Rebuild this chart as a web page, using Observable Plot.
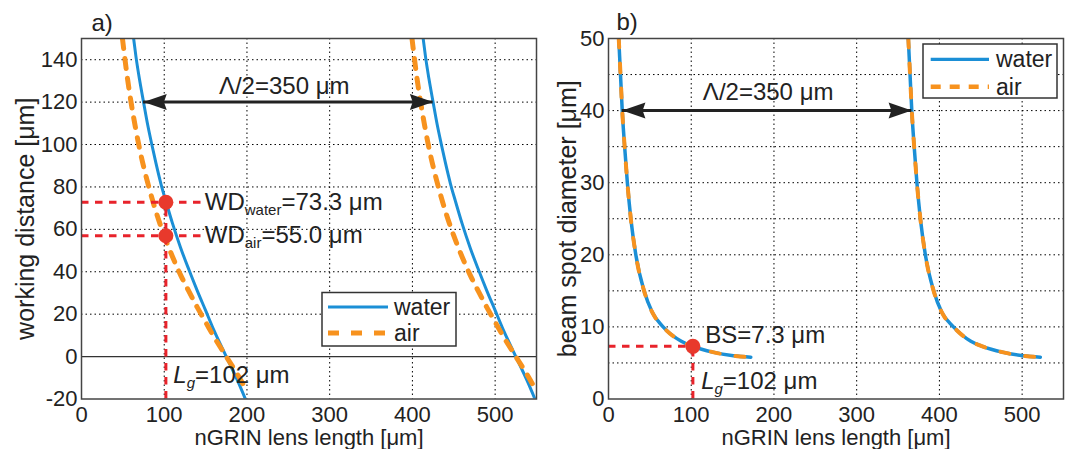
<!DOCTYPE html>
<html><head><meta charset="utf-8">
<script src="https://cdn.jsdelivr.net/npm/d3@7"></script>
<script src="https://cdn.jsdelivr.net/npm/@observablehq/plot@0.6"></script>
<style>
html,body{margin:0;padding:0;background:#fff;}
#wrap{position:relative;width:1070px;height:449px;display:flex;overflow:hidden;}
#wrap svg{display:block;}
#overlay{position:absolute;left:0;top:0;pointer-events:none;}
</style></head><body><div id="wrap"></div>
<script>
// ---------- data ----------
const xTicks = [0,100,200,300,400,500];
const xGrid = [100,200,300,400,500];
const wdTicks = [-20,0,20,40,60,80,100,120,140];
const wdGrid = [20,40,60,80,100,120,140];
const bsTicks = [0,10,20,30,40,50];
const bsGrid = [5,10,15,20,25,30,35,40,45];
const seriesNames = ["water","air"];

// panel a: working distance [um] vs nGRIN lens length [um]
const wdWaterL = [[63,150],[66,141],[70,131],[75,120],[80,109.3],[85,100],[90,91.2],[96,81.5],[102,73.3],[110,62.8],[120,51.1],[130,40.8],[140,31],[150,21.8],[160,12.5],[175,0],[190,-12.5],[200,-21.8]];
const wdAirL   = [[49.5,150],[55,132.8],[60,119.7],[65,108.5],[70,98.4],[80,82],[90,68.4],[100,57],[110,47.1],[120,38.3],[130,30.6],[140,23.2],[150,16.3],[160,9.4],[175,0],[190,-9.4],[200,-16.3]];
const wdWaterR = [[413,150],[416,141],[420,131],[425,120],[430,109.3],[435,100],[440,91.2],[446,81.5],[452,73.3],[460,62.8],[470,51.1],[480,40.8],[490,31],[500,21.8],[510,12.5],[525,0],[540,-12.5],[550,-21.8]];
const wdAirR   = [[399.5,150],[405,132.8],[410,119.7],[415,108.5],[420,98.4],[430,82],[440,68.4],[450,57],[460,47.1],[470,38.3],[480,30.6],[490,23.2],[500,16.3],[510,9.4],[525,0],[540,-9.4],[550,-16.3]];

// panel b: beam spot diameter [um] vs nGRIN lens length [um]
const bsL = [[12.4,50],[14.5,45],[16.6,40],[19.5,35],[22.8,30],[27,25],[33,20],[43,15],[53,12],[66,10],[88,8],[102,7.3],[126,6.5],[151,6],[172,5.8]];
const bsR = [[362.4,50],[364.5,45],[366.6,40],[369.5,35],[372.8,30],[377,25],[383,20],[393,15],[403,12],[417,10],[438,8],[452,7.3],[476,6.5],[501,6],[522,5.8]];

// annotations
const lgLength = 102;
const wdWaterMark = 72.8, wdAirMark = 57;
const bsMark = 7.3;
const pitchA = {y:120, x1:75, x2:425};
const pitchB = {y:40, x1:16.6, x2:366.6};
const notesA = [
  {x:149, y:72.8, t:"WD_{water}=73.3 μm"},
  {x:149, y:57, t:"WD_{air}=55.0 μm"},
  {x:111, y:-9, t:"*L_{g}=102 μm"}
];
const pitchLabelA = [{x:245, y:127.5, t:"Λ/2=350 μm"}];
const notesB = [
  {x:117, y:8.9, t:"BS=7.3 μm"},
  {x:112, y:2.4, t:"*L_{g}=102 μm"}
];
const pitchLabelB = [{x:193, y:42.5, t:"Λ/2=350 μm"}];

// ---------- styles ----------
const BLUE = "#1b8fd6", ORANGE = "#f7921e", RED = "#e8392c", REDL = "#e8232b", INK = "#222";
const FONT = '"Liberation Sans", Arial, Helvetica, sans-serif';
const gridStyle = {stroke:"#000", strokeOpacity:1, strokeWidth:1, strokeDasharray:"1.5,3"};
const redDash = {stroke:REDL, strokeWidth:3, strokeDasharray:"7.5,6.5"};
const plainNum = d => String(d);

const arrowHead = {draw(ctx, size){
  const r = Math.sqrt(size/Math.PI), L = r*2.9;
  ctx.moveTo(0,0); ctx.lineTo(r, L); ctx.lineTo(0, L*0.88); ctx.lineTo(-r, L); ctx.closePath();
}};

function rows(pairs, s, b){ return pairs.map(([x,y]) => ({x, y, s, b})); }

function arrowMarks(p){
  return [
    Plot.ruleY([p], {y:"y", x1:"x1", x2:"x2", stroke:INK, strokeWidth:3}),
    Plot.dot([{x:p.x1, y:p.y, rot:-90},{x:p.x2, y:p.y, rot:90}],
      {x:"x", y:"y", rotate:"rot", symbol:arrowHead, r:8, fill:INK, stroke:"none"})
  ];
}

function rich(svg){
  d3.select(svg).selectAll("text").each(function(){
    const s = this.textContent;
    const m = s.match(/^(\*)?([^_]+)_\{([^}]+)\}(.*)$/);
    if(!m) return;
    const it = m[1] ? "italic" : null;
    const t = d3.select(this); t.text(null);
    t.append("tspan").attr("font-style", it).text(m[2]);
    t.append("tspan").attr("font-style", it).attr("font-size", 15).attr("dy", 5).text(m[3]);
    t.append("tspan").attr("dy", -5).text(m[4]);
  });
}

const common = {
  height:449, marginTop:38, marginBottom:50.5,
  style:{fontFamily:FONT, fontSize:"22px", color:INK, background:"transparent", overflow:"visible"},
  x:{domain:[0,550]}
};

// ---------- panel a ----------
const dataA = [
  ...rows(wdWaterL,"water",1), ...rows(wdWaterR,"water",2),
  ...rows(wdAirL,"air",1), ...rows(wdAirR,"air",2)
];
const plotA = Plot.plot({
  ...common, width:540, marginLeft:81, marginRight:4,
  y:{domain:[-20,150]},
  marks:[
    Plot.gridX(xGrid, gridStyle),
    Plot.gridY(wdGrid, gridStyle),
    Plot.ruleY([0], {stroke:"#333", strokeWidth:1.3}),
    Plot.axisX(xTicks, {tickSize:0, tickPadding:7, label:null, fill:INK, tickFormat:plainNum}),
    Plot.axisY(wdTicks, {tickSize:0, tickPadding:4, label:null, fill:INK, tickFormat:plainNum}),
    Plot.line(dataA.filter(d=>d.s==="water"), {x:"x", y:"y", z:"b", stroke:BLUE, strokeWidth:3, curve:"monotone-x", clip:true}),
    Plot.line(dataA.filter(d=>d.s==="air"), {x:"x", y:"y", z:"b", stroke:ORANGE, strokeWidth:5, strokeDasharray:"10,10", curve:"monotone-x", clip:true}),
    Plot.ruleY([wdWaterMark, wdAirMark], {x1:0, x2:145, ...redDash}),
    Plot.ruleX([lgLength], {y1:-20, y2:wdWaterMark, ...redDash}),
    Plot.dot([wdWaterMark, wdAirMark], {x:()=>lgLength, y:d=>d, r:7.5, fill:RED, stroke:"none"}),
    ...arrowMarks(pitchA),
    Plot.text(notesA, {x:"x", y:"y", text:"t", textAnchor:"start", fontSize:24, fill:INK}),
    Plot.text(pitchLabelA, {x:"x", y:"y", text:"t", textAnchor:"middle", fontSize:24, fill:INK}),
    Plot.frame({stroke:"#444", strokeWidth:1.5}),
    Plot.text(["a)"], {text:d=>d, frameAnchor:"top-left", textAnchor:"start", lineAnchor:"middle", dx:10, dy:-15, fontSize:24, fill:INK}),
    Plot.text(["working distance [μm]"], {text:d=>d, frameAnchor:"left", textAnchor:"middle", lineAnchor:"middle", rotate:-90, dx:-56, fontSize:25, fill:INK}),
    Plot.text(["nGRIN lens length [μm]"], {text:d=>d, frameAnchor:"bottom", textAnchor:"middle", lineAnchor:"middle", dy:38.5, fontSize:22, fill:INK})
  ]
});

// ---------- panel b ----------
const dataB = [
  ...rows(bsL,"water",1), ...rows(bsR,"water",2),
  ...rows(bsL,"air",1), ...rows(bsR,"air",2)
];
const plotB = Plot.plot({
  ...common, width:530, marginLeft:68, marginRight:7,
  y:{domain:[0,50]},
  marks:[
    Plot.gridX(xGrid, gridStyle),
    Plot.gridY(bsGrid, gridStyle),
    Plot.axisX(xTicks, {tickSize:0, tickPadding:7, label:null, fill:INK, tickFormat:plainNum}),
    Plot.axisY(bsTicks, {tickSize:0, tickPadding:4, label:null, fill:INK, tickFormat:plainNum}),
    Plot.line(dataB.filter(d=>d.s==="water"), {x:"x", y:"y", z:"b", stroke:BLUE, strokeWidth:3.5, curve:"monotone-x", clip:true}),
    Plot.line(dataB.filter(d=>d.s==="air"), {x:"x", y:"y", z:"b", stroke:ORANGE, strokeWidth:4, strokeDasharray:"9,16", curve:"monotone-x", clip:true}),
    Plot.ruleY([bsMark], {x1:0, x2:lgLength, ...redDash}),
    Plot.ruleX([lgLength], {y1:0, y2:bsMark, ...redDash}),
    Plot.dot([bsMark], {x:()=>lgLength, y:d=>d, r:7.5, fill:RED, stroke:"none"}),
    ...arrowMarks(pitchB),
    Plot.text(notesB, {x:"x", y:"y", text:"t", textAnchor:"start", fontSize:24, fill:INK}),
    Plot.text(pitchLabelB, {x:"x", y:"y", text:"t", textAnchor:"middle", fontSize:24, fill:INK}),
    Plot.frame({stroke:"#444", strokeWidth:1.5}),
    Plot.text(["b)"], {text:d=>d, frameAnchor:"top-left", textAnchor:"start", lineAnchor:"middle", dx:8, dy:-16, fontSize:24, fill:INK}),
    Plot.text(["beam spot diameter [μm]"], {text:d=>d, frameAnchor:"left", textAnchor:"middle", lineAnchor:"middle", rotate:-90, dx:-41, fontSize:25, fill:INK}),
    Plot.text(["nGRIN lens length [μm]"], {text:d=>d, frameAnchor:"bottom", textAnchor:"middle", lineAnchor:"middle", dy:38.5, fontSize:22, fill:INK})
  ]
});

rich(plotA); rich(plotB);
const wrap = document.getElementById("wrap");
wrap.appendChild(plotA);
wrap.appendChild(plotB);

// ---------- legends ----------
const ov = d3.select(wrap).append("svg").attr("id","overlay").attr("width",1070).attr("height",449);
function legend(box, dashAir, airWidth){
  const g = ov.append("g").attr("transform", `translate(${box.x},${box.y})`);
  g.append("rect").attr("width", box.w).attr("height", box.h).attr("fill","#fff").attr("stroke","#333").attr("stroke-width",1.5);
  seriesNames.forEach((name, i) => {
    const y = box.rows[i];
    g.append("line").attr("x1", box.l1).attr("x2", box.l2).attr("y1", y).attr("y2", y)
      .attr("stroke", i ? ORANGE : BLUE).attr("stroke-width", i ? airWidth : 3.2)
      .attr("stroke-dasharray", i ? dashAir : null);
    g.append("text").attr("x", box.tx).attr("y", y).attr("dy","0.35em")
      .attr("font-family", FONT).attr("font-size", 23).attr("fill", INK).text(name);
  });
}
legend({x:322, y:292.5, w:134, h:53.5, rows:[14.5,40.5], l1:6, l2:66, tx:72}, "11,12", 5);
legend({x:923, y:44, w:134, h:54, rows:[15.3,42.7], l1:7.7, l2:66, tx:73}, "10,9", 4.5);
</script></body></html>
